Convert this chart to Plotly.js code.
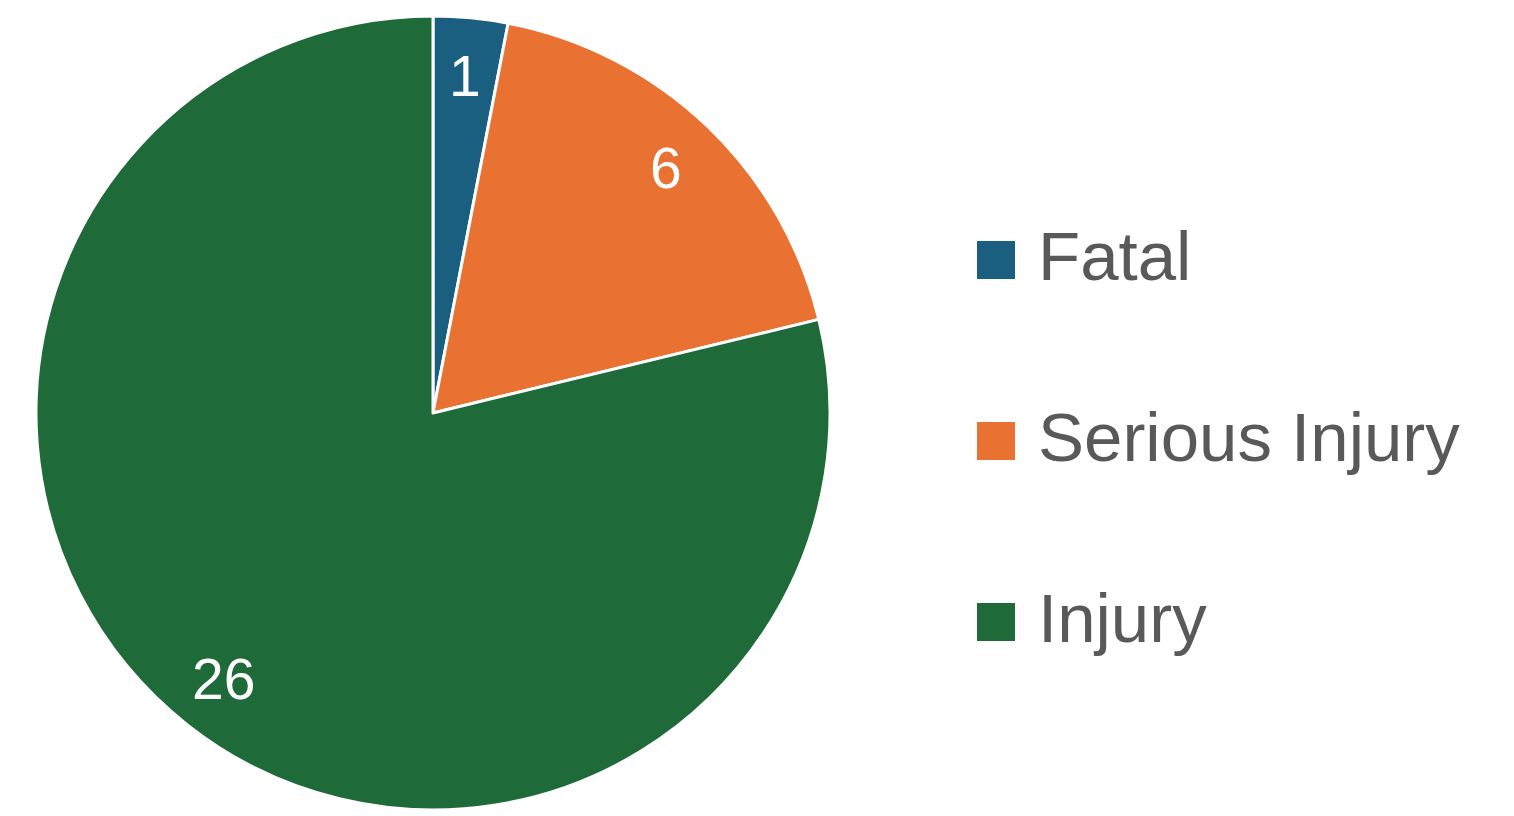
<!DOCTYPE html>
<html>
<head>
<meta charset="utf-8">
<script src="https://cdn.plot.ly/plotly-3.0.1.min.js"></script>
<style>html,body{margin:0;padding:0;background:#fff;}#chart{width:1514px;height:816px;}</style>
</head>
<body>
<div id="chart"></div>
<script>
const categories = ["Fatal", "Serious Injury", "Injury"];
const values = [1, 6, 26];
const colors = ["#1A5F80", "#E97132", "#1E6B39"];

const W = 1514, H = 816;
const cx = 433, cy = 413, r = 397;
const labelRadius = 0.852;

const trace = {
  type: "pie",
  labels: categories,
  values: values,
  sort: false,
  direction: "clockwise",
  rotation: 0,
  marker: {colors: colors, line: {color: "#FFFFFF", width: 3}},
  textinfo: "none",
  hoverinfo: "label+value",
  domain: {x: [(cx - r) / W, (cx + r) / W], y: [1 - (cy + r) / H, 1 - (cy - r) / H]}
};

const shapes = [], annotations = [];

// data labels placed at each slice's mid-angle
const total = values.reduce((a, b) => a + b, 0);
let cum = 0;
values.forEach((v, i) => {
  const mid = (cum + v / 2) / total * 2 * Math.PI;
  cum += v;
  const px = cx + labelRadius * r * Math.sin(mid);
  const py = cy - labelRadius * r * Math.cos(mid);
  annotations.push({xref: "paper", yref: "paper", x: px / W, y: 1 - py / H,
    xanchor: "center", yanchor: "middle", showarrow: false, text: String(v),
    font: {family: "Liberation Sans, Arial, sans-serif", size: 57, color: "#FFFFFF"}});
});

const legendY = [260, 441, 622];
categories.forEach((c, i) => {
  shapes.push({type: "rect", xref: "paper", yref: "paper",
    x0: 977 / W, x1: 1015 / W, y0: 1 - (legendY[i] + 19) / H, y1: 1 - (legendY[i] - 19) / H,
    fillcolor: colors[i], line: {width: 0}});
  annotations.push({xref: "paper", yref: "paper", x: 1036 / W, y: 1 - (legendY[i] - 4) / H,
    xanchor: "left", yanchor: "middle", showarrow: false, text: c,
    font: {family: "Liberation Sans, Arial, sans-serif", size: 69, color: "#595959"}});
});

Plotly.newPlot("chart", [trace], {
  width: W, height: H,
  margin: {l: 0, r: 0, t: 0, b: 0},
  paper_bgcolor: "#FFFFFF",
  showlegend: false,
  shapes: shapes,
  annotations: annotations
}, {displayModeBar: false, staticPlot: true});
</script>
</body>
</html>
